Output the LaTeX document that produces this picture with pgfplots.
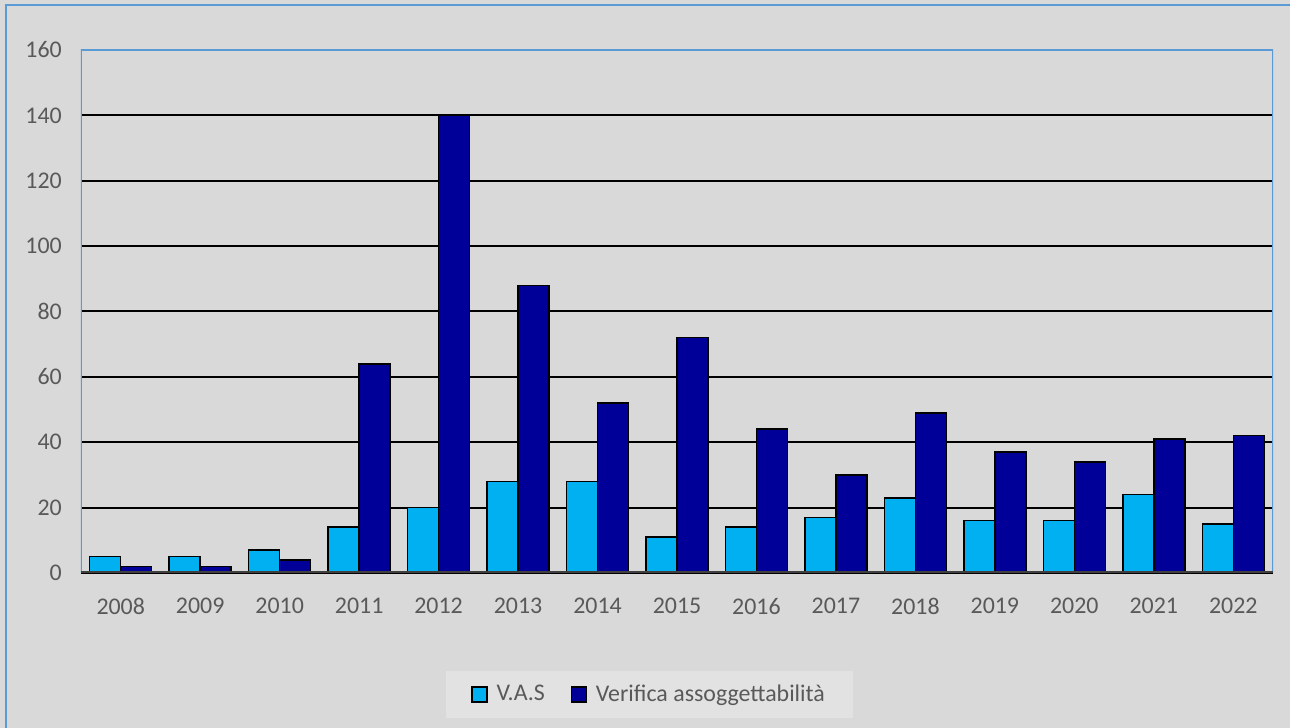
\documentclass[border=0pt]{standalone}
\usepackage{pgfplots}
\pgfplotsset{compat=1.18}
\usepackage{pgfplotstable}
\usepackage{fontspec}
\setmainfont{Carlito}
\definecolor{bg}{HTML}{D9D9D9}
\definecolor{legbg}{HTML}{E2E2E2}
\definecolor{frameblue}{HTML}{5B9BD5}
\definecolor{axgray}{HTML}{404040}
\definecolor{txtgray}{HTML}{595959}
\definecolor{vas}{HTML}{00B0F0}
\definecolor{ver}{HTML}{000099}
\pgfplotstableread{
x y
0 5
1 5
2 7
3 14
4 20
5 28
6 28
7 11
8 14
9 17
10 23
11 16
12 16
13 24
14 15
}\vasdata
\pgfplotstableread{
x y
0 2
1 2
2 4
3 64
4 140
5 88
6 52
7 72
8 44
9 30
10 49
11 37
12 34
13 41
14 42
}\verdata
\begin{document}
\begin{tikzpicture}[x=1cm,y=1cm]
\fill[bg] (0,0) rectangle (25.8,14.56);
\useasboundingbox (0,0) rectangle (25.8,14.56);
\draw[frameblue, line width=0.04cm] (0.12,0) -- (0.12,14.46) -- (25.8,14.46);
\begin{axis}[
  at={(1.62cm,3.10cm)}, anchor=south west,
  scale only axis, width=23.84cm, height=10.46cm,
  ymin=0, ymax=160, xmin=-0.5, xmax=14.5,
  ytick={0,20,...,160},
  xtick={0,...,14},
  xticklabels={2008,2009,2010,2011,2012,2013,2014,2015,2016,2017,2018,2019,2020,2021,2022},
  axis line style={draw=none},
  tick style={draw=none},
  ymajorgrids,
  grid style={black, line width=0.04cm},
  /pgf/number format/assume math mode=true,
  ticklabel style={font=\fontsize{13.6}{16}\selectfont, text=txtgray},
  yticklabel style={xshift=-0.26cm},
  xticklabel style={yshift=-0.38cm},
  legend style={at={(0.4773,-0.2323)}, anchor=center, fill=legbg, draw=none,
    legend columns=2, font=\fontsize{13.6}{16}\selectfont, text=txtgray,
    inner xsep=0.5cm, inner ysep=0.2cm,
    /tikz/every odd column/.append style={column sep=0.1cm},
    /tikz/every even column/.append style={column sep=0.45cm}},
  legend image code/.code={\draw[#1, line width=0.03cm] (0cm,-0.15cm) rectangle (0.3cm,0.15cm);},
]
\addplot[ybar, bar width=0.39, bar shift=-0.195, fill=vas, draw=black, line width=0.03cm] table[x=x,y=y] {\vasdata};
\addlegendentry{V.A.S}
\addplot[ybar, bar width=0.39, bar shift=0.195, fill=ver, draw=black, line width=0.03cm] table[x=x,y=y] {\verdata};
\addlegendentry{Verifica assoggettabilità}
\draw[frameblue, line width=0.04cm] (rel axis cs:0,0) -- (rel axis cs:0,1) -- (rel axis cs:1,1) -- (rel axis cs:1,0);
\draw[axgray, line width=0.06cm] (rel axis cs:0,0) -- (rel axis cs:1,0);
\end{axis}
\end{tikzpicture}
\end{document}
